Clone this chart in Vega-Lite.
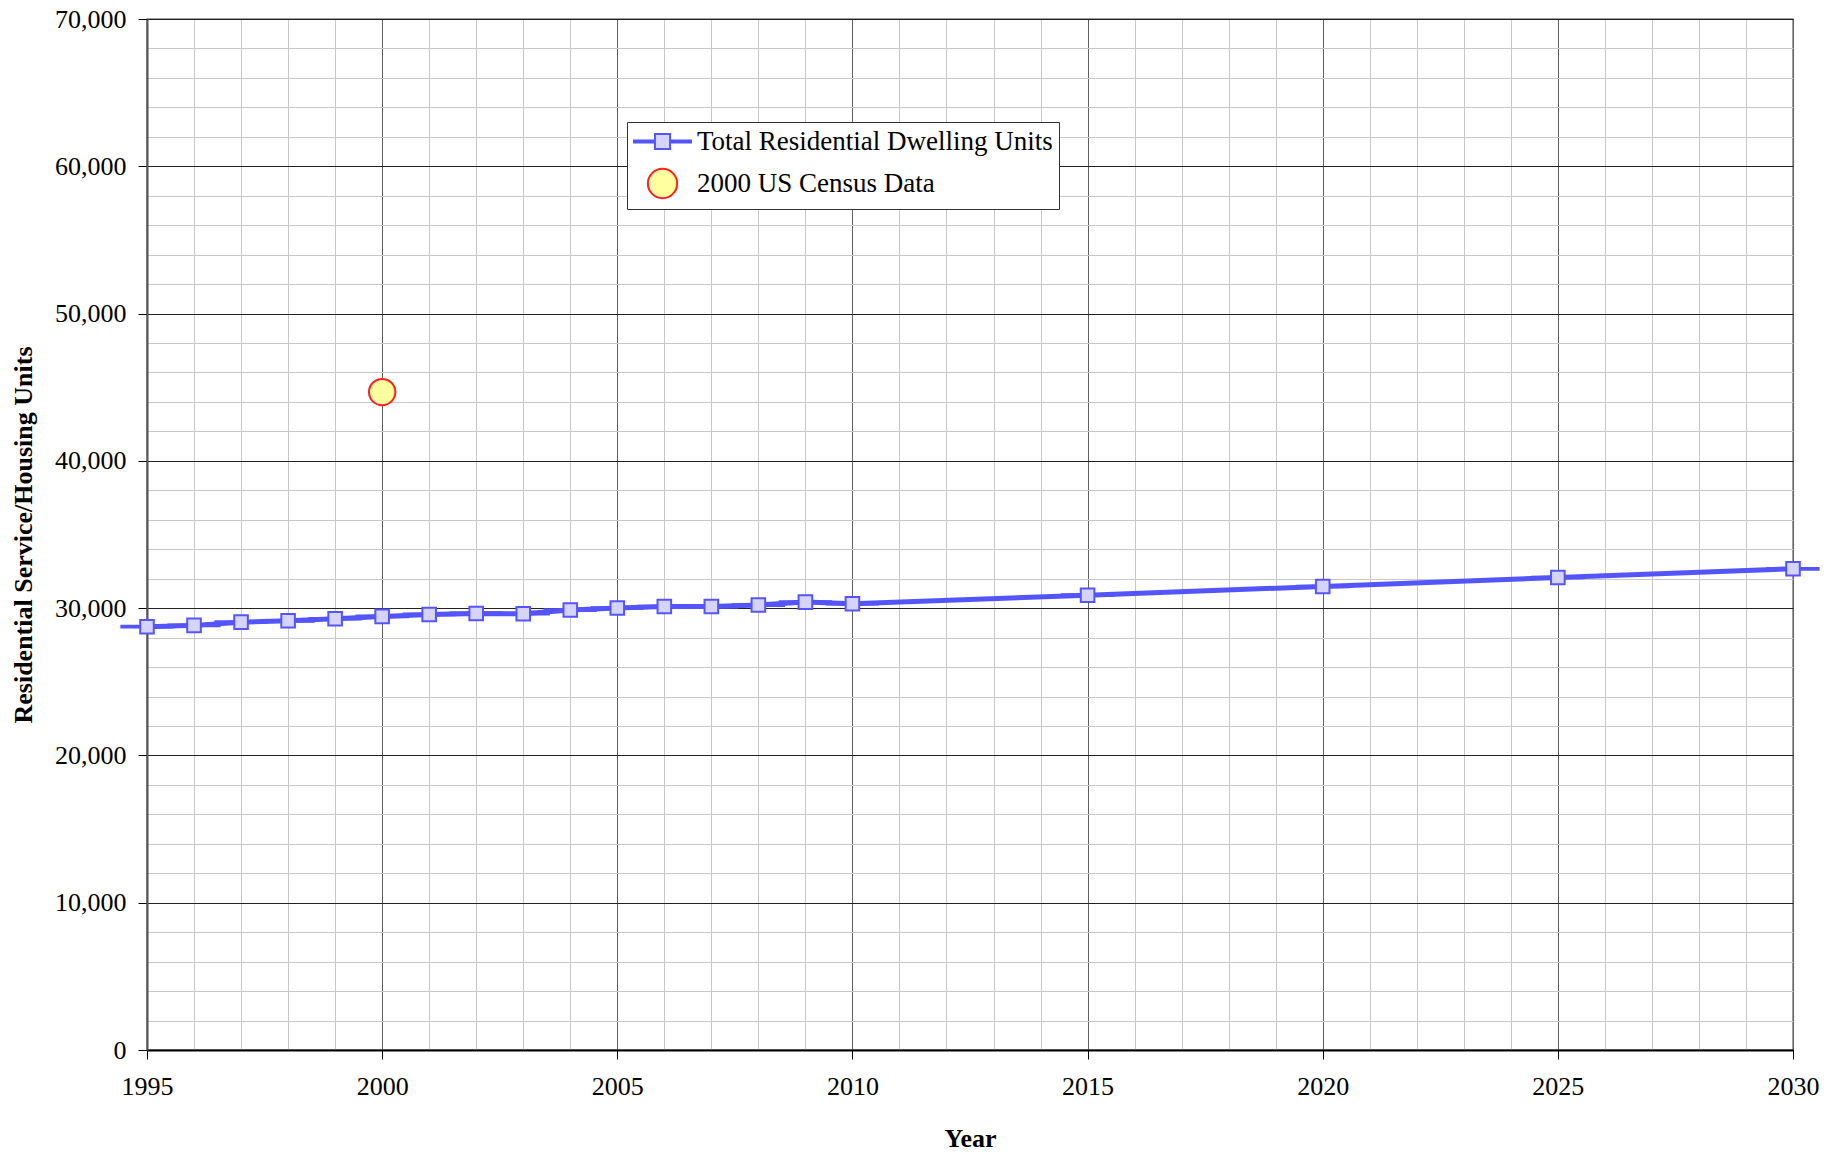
{
  "$schema": "https://vega.github.io/schema/vega-lite/v6.json",
  "width": 1646,
  "height": 1031,
  "autosize": {"type": "none"},
  "padding": {"left": 147, "top": 19, "right": 51, "bottom": 104},
  "background": "white",
  "config": {
    "font": "Liberation Serif",
    "view": {"stroke": "#808080", "strokeWidth": 1.5},
    "legend": {
      "title": null,
      "orient": "none",
      "legendX": 480,
      "legendY": 103,
      "fillColor": "#ffffff",
      "strokeColor": "#333333",
      "padding": 6,
      "labelFontSize": 27,
      "labelFont": "Liberation Serif",
      "labelColor": "#000000",
      "labelLimit": 1000,
      "labelOffset": 21,
      "symbolOffset": 16,
      "symbolSize": 576,
      "symbolStrokeWidth": 2,
      "rowPadding": 9
    }
  },
  "data": {
    "values": [
      {"year": 1995, "units": 28740, "series": "Total Residential Dwelling Units"},
      {"year": 1996, "units": 28830, "series": "Total Residential Dwelling Units"},
      {"year": 1997, "units": 29050, "series": "Total Residential Dwelling Units"},
      {"year": 1998, "units": 29140, "series": "Total Residential Dwelling Units"},
      {"year": 1999, "units": 29280, "series": "Total Residential Dwelling Units"},
      {"year": 2000, "units": 29440, "series": "Total Residential Dwelling Units"},
      {"year": 2001, "units": 29570, "series": "Total Residential Dwelling Units"},
      {"year": 2002, "units": 29640, "series": "Total Residential Dwelling Units"},
      {"year": 2003, "units": 29620, "series": "Total Residential Dwelling Units"},
      {"year": 2004, "units": 29870, "series": "Total Residential Dwelling Units"},
      {"year": 2005, "units": 30010, "series": "Total Residential Dwelling Units"},
      {"year": 2006, "units": 30110, "series": "Total Residential Dwelling Units"},
      {"year": 2007, "units": 30110, "series": "Total Residential Dwelling Units"},
      {"year": 2008, "units": 30210, "series": "Total Residential Dwelling Units"},
      {"year": 2009, "units": 30410, "series": "Total Residential Dwelling Units"},
      {"year": 2010, "units": 30300, "series": "Total Residential Dwelling Units"},
      {"year": 2015, "units": 30880, "series": "Total Residential Dwelling Units"},
      {"year": 2020, "units": 31470, "series": "Total Residential Dwelling Units"},
      {"year": 2025, "units": 32080, "series": "Total Residential Dwelling Units"},
      {"year": 2030, "units": 32670, "series": "Total Residential Dwelling Units"},
      {"year": 2000, "units": 44670, "series": "2000 US Census Data"}
    ]
  },
  "encoding": {
    "x": {
      "field": "year", "type": "quantitative",
      "scale": {"domain": [1995, 2030], "nice": false, "zero": false},
      "axis": {
        "values": [1995,1996,1997,1998,1999,2000,2001,2002,2003,2004,2005,2006,2007,2008,2009,2010,2011,2012,2013,2014,2015,2016,2017,2018,2019,2020,2021,2022,2023,2024,2025,2026,2027,2028,2029,2030],
        "labelExpr": "datum.value % 5 === 0 ? format(datum.value, 'd') : ''",
        "labelOverlap": false,
        "labelFlush": false,
        "labelBound": false,
        "grid": true,
        "gridColor": {"condition": {"test": "datum.value % 5 === 0", "value": "#606060"}, "value": "#c8c8c8"},
        "gridWidth": 1,
        "tickSize": {"condition": {"test": "datum.value % 5 === 0", "value": 9}, "value": 0},
        "tickColor": "#000000",
        "tickWidth": 1,
        "domainColor": "#000000",
        "domainWidth": 2,
        "labelFontSize": 26,
        "labelFont": "Liberation Serif",
        "labelColor": "#000000",
        "labelPadding": 14,
        "title": "Year",
        "titleFont": "Liberation Serif",
        "titleFontSize": 26,
        "titleFontWeight": "bold",
        "titleColor": "#000000",
        "titleY": 88,
        "titleBaseline": "middle"
      }
    },
    "y": {
      "field": "units", "type": "quantitative",
      "scale": {"domain": [0, 70000], "nice": false},
      "axis": {
        "values": [0,2000,4000,6000,8000,10000,12000,14000,16000,18000,20000,22000,24000,26000,28000,30000,32000,34000,36000,38000,40000,42000,44000,46000,48000,50000,52000,54000,56000,58000,60000,62000,64000,66000,68000,70000],
        "labelExpr": "datum.value % 10000 === 0 ? format(datum.value, ',.0f') : ''",
        "labelOverlap": false,
        "labelFlush": false,
        "labelBound": false,
        "grid": true,
        "gridColor": {"condition": {"test": "datum.value % 10000 === 0", "value": "#222222"}, "value": "#c8c8c8"},
        "gridWidth": 1,
        "tickSize": {"condition": {"test": "datum.value % 10000 === 0", "value": 9}, "value": 0},
        "tickColor": "#000000",
        "tickWidth": 1,
        "domainColor": "#555555",
        "domainWidth": 2,
        "labelFontSize": 26,
        "labelFont": "Liberation Serif",
        "labelColor": "#000000",
        "labelPadding": 12,
        "title": "Residential Service/Housing Units",
        "titleFont": "Liberation Serif",
        "titleFontSize": 26,
        "titleFontWeight": "bold",
        "titleColor": "#000000",
        "titleX": -124,
        "titleBaseline": "middle"
      }
    }
  },
  "layer": [
    {
      "transform": [{"filter": "datum.series === 'Total Residential Dwelling Units'"}],
      "mark": {"type": "line", "color": "#5555ff", "strokeWidth": 5}
    },
    {
      "mark": {"type": "point", "filled": true, "opacity": 1, "strokeWidth": 2, "size": 466},
      "encoding": {
        "shape": {
          "field": "series", "type": "nominal",
          "scale": {"domain": ["Total Residential Dwelling Units", "2000 US Census Data"], "range": ["M-2.375,-0.08H-0.63V0.08H-2.375Z M0.63,-0.08H2.375V0.08H0.63Z M-0.63,-0.63H0.63V0.63H-0.63Z", "M-1.22,0A1.22,1.22,0,1,1,1.22,0A1.22,1.22,0,1,1,-1.22,0Z"]},
          "legend": {}
        },
        "fill": {
          "field": "series", "type": "nominal",
          "scale": {"domain": ["Total Residential Dwelling Units", "2000 US Census Data"], "range": ["#d4d4ff", "#ffffa0"]},
          "legend": {}
        },
        "stroke": {
          "field": "series", "type": "nominal",
          "scale": {"domain": ["Total Residential Dwelling Units", "2000 US Census Data"], "range": ["#5555ff", "#ff2020"]},
          "legend": {}
        }
      }
    }
  ]
}
